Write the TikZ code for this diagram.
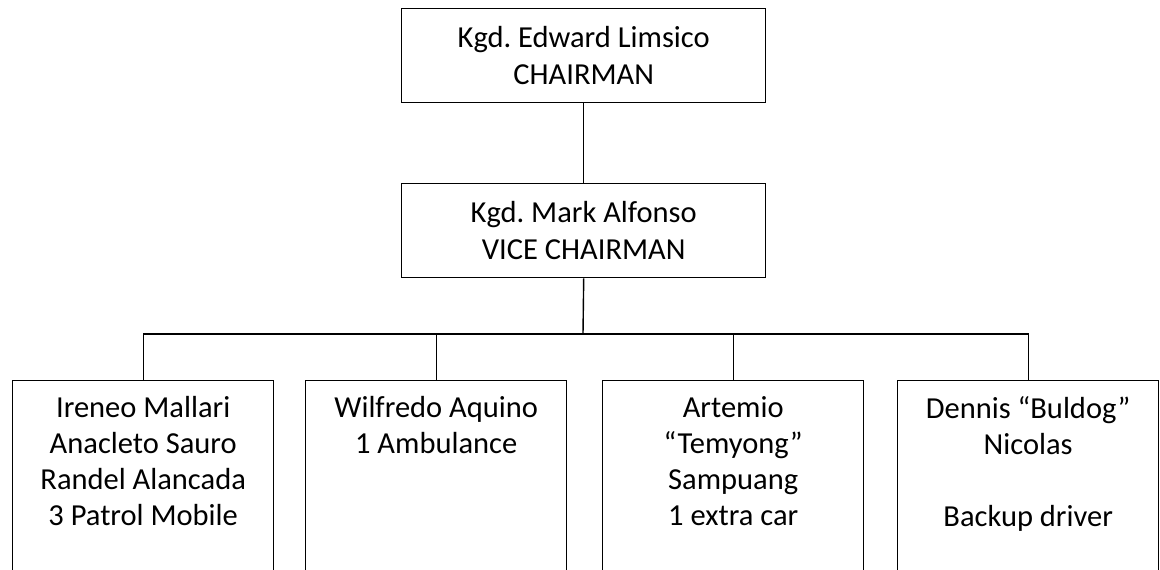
\documentclass[tikz,border=0pt]{standalone}
\usepackage{fontspec}
\setmainfont{Carlito}
\frenchspacing
\begin{document}
\begin{tikzpicture}[x=1pt,y=-1pt,
  box/.style={draw, line width=1.4pt, rectangle, inner sep=0pt, align=center,
    font=\fontsize{30.5}{37}\selectfont},
  topbox/.style={box, minimum width=364pt, minimum height=94pt, anchor=north west},
  lowbox/.style={draw, line width=1.4pt, rectangle, minimum width=261pt, minimum height=240pt, anchor=north west},
  txt/.style={inner sep=0pt, align=center, anchor=north, font=\fontsize{30.5}{36}\selectfont},
  link/.style={line width=1.4pt}]
\path[use as bounding box] (0,0) rectangle (1160,570);
\clip (0,0) rectangle (1160,570);

\node[topbox] (chair) at (401,8) {Kgd. Edward Limsico\\CHAIRMAN};
\node[topbox] (vice) at (401,183) {Kgd. Mark Alfonso\\VICE CHAIRMAN};

\node[lowbox] (b1) at (12,380) {};
\node[lowbox] (b2) at (305,380) {};
\node[lowbox] (b3) at (602,380) {};
\node[lowbox] (b4) at (897,380) {};

\node[txt] (t1) at ([yshift=-16pt]b1.north) {Ireneo Mallari\\Anacleto Sauro\\Randel Alancada\\3 Patrol Mobile};
\node[txt] (t2) at ([yshift=-16pt]b2.north) {Wilfredo Aquino\\1 Ambulance};
\node[txt] (t3) at ([yshift=-16pt]b3.north) {Artemio\\“Temyong”\\Sampuang\\1 extra car};
\node[txt] (t4) at ([yshift=-16pt]b4.north) {Dennis “Buldog”\\Nicolas\\[36pt]Backup driver};

\coordinate (bus) at (583,334);
\draw[link] (chair.south) -- (vice.north);
\draw[link] (vice.south) -- (bus);
\draw[link] (b1.north) |- (bus) -| (b4.north);
\draw[link] (b2.north) -- (b2.north |- bus);
\draw[link] (b3.north) -- (b3.north |- bus);
\end{tikzpicture}
\end{document}
